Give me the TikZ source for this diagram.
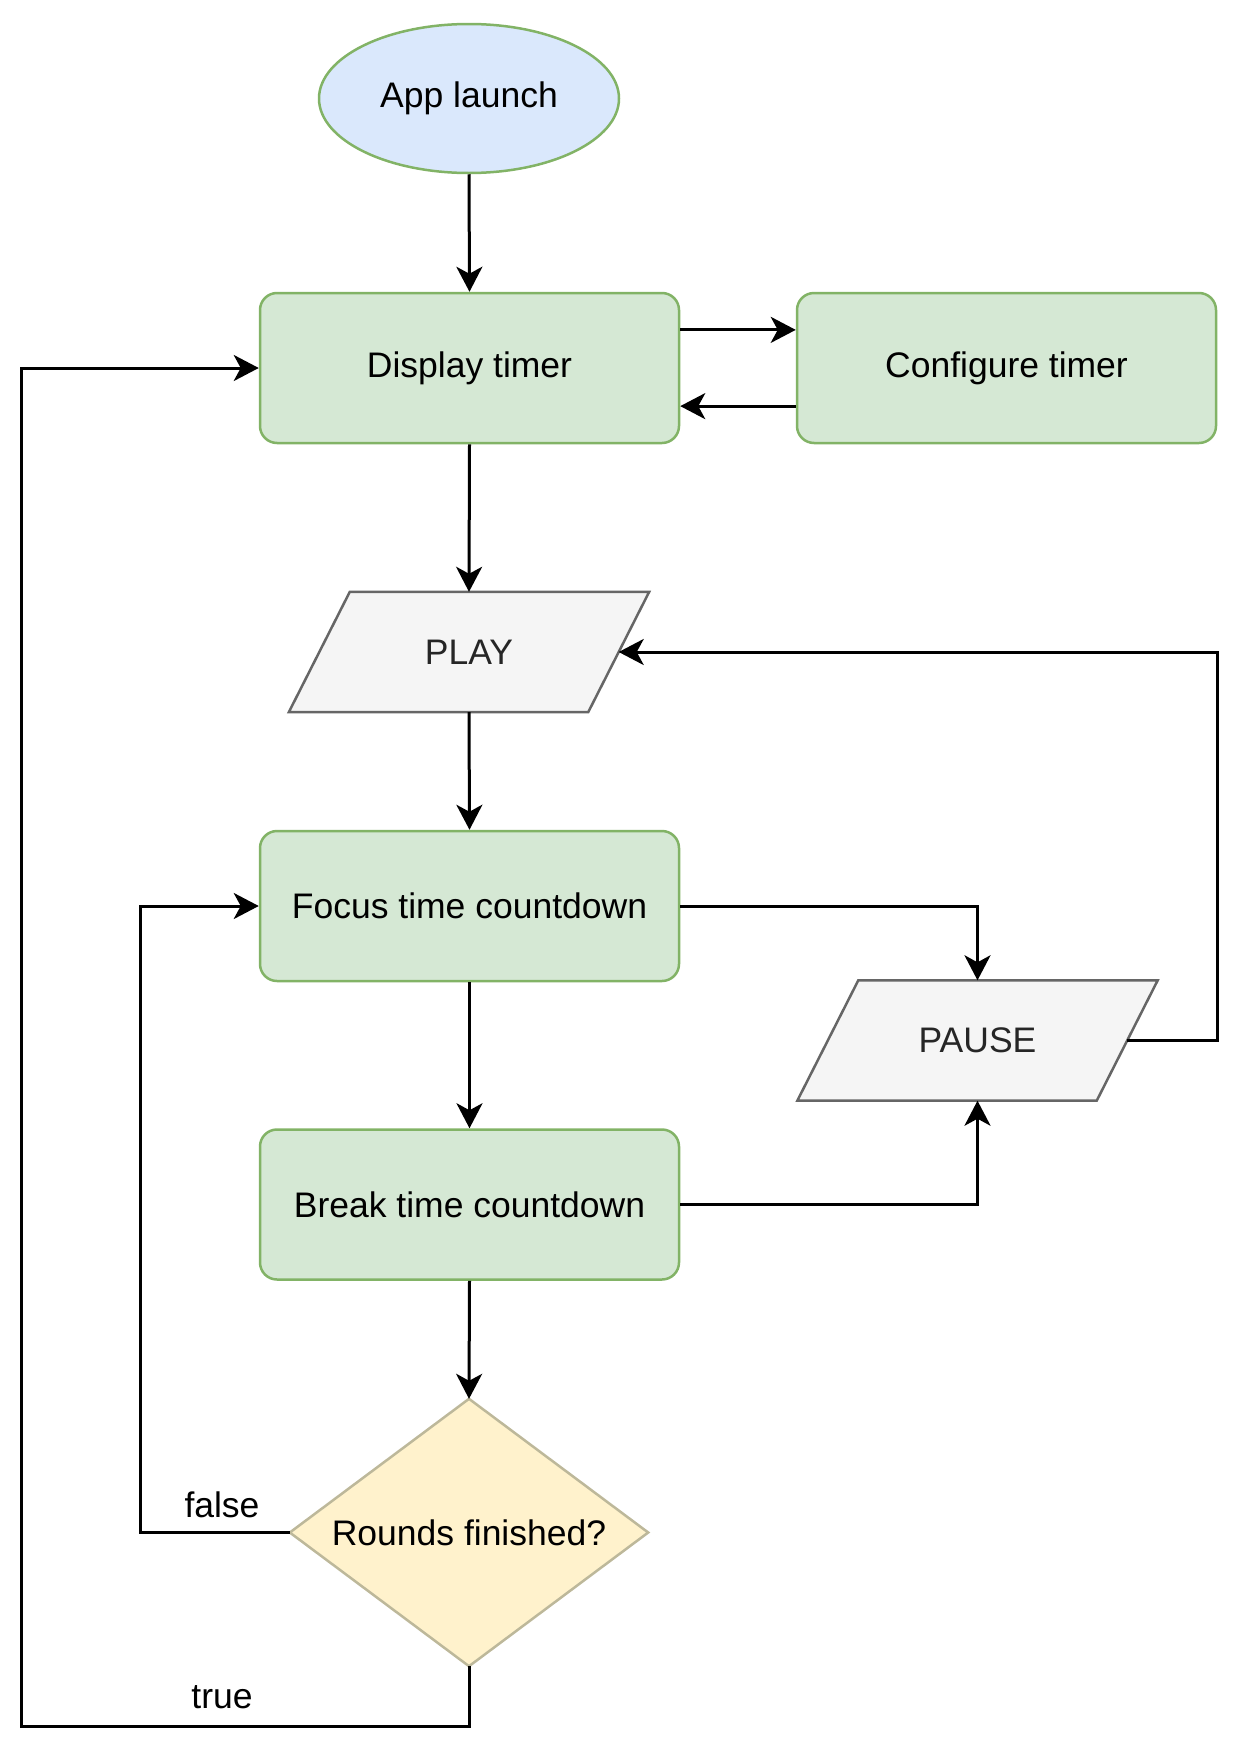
\documentclass[tikz,border=0pt]{standalone}
\usepackage{fontspec}
\setmainfont{Liberation Sans}
\usetikzlibrary{shapes.geometric,arrows.meta,calc,backgrounds}
\definecolor{gfill}{HTML}{D5E8D4}
\definecolor{gline}{HTML}{82B366}
\definecolor{bfill}{HTML}{DAE8FC}
\definecolor{pfill}{HTML}{F5F5F5}
\definecolor{pline}{HTML}{666666}
\definecolor{yfill}{HTML}{FFF2CC}
\definecolor{yline}{HTML}{BDB89A}
\begin{document}
\begin{tikzpicture}[x=1pt,y=-1pt,
  every node/.style={font=\fontsize{35.5}{42}\selectfont, inner sep=0pt},
  greenbox/.style={rectangle, rounded corners=17pt, draw=gline, fill=gfill, line width=2.5pt, minimum width=419pt, minimum height=150pt},
  startnode/.style={ellipse, draw=gline, fill=bfill, line width=2.5pt, minimum width=300pt, minimum height=149pt},
  parabody/.style={rectangle, minimum width=299pt, minimum height=120pt, text=black!85},
  parashape/.style={draw=pline, fill=pfill, line width=2.5pt},
  decbody/.style={rectangle, minimum width=358pt, minimum height=267pt},
  decshape/.style={draw=yline, fill=yfill, line width=2.5pt},
  conn/.style={line width=3pt, -{Stealth[length=25pt,width=26pt,inset=7pt]}}
]
\useasboundingbox (0,0) rectangle (1242,1756);

\node[startnode] (app) at (469,98.5) {App launch};
\node[greenbox] (disp) at (469.5,368) {Display timer};
\node[greenbox] (conf) at (1006.5,368) {Configure timer};
\node[parabody] (play) at (469,652) {PLAY};
\node[greenbox] (focus) at (469.5,906) {Focus time countdown};
\node[parabody] (pause) at (977.5,1040.5) {PAUSE};
\node[greenbox] (brk) at (469.5,1204.5) {Break time countdown};
\node[decbody] (dec) at (469,1532.5) {Rounds finished?};

\begin{scope}[on background layer]
  \draw[parashape] ([xshift=-30.5pt]play.south west) -- ([xshift=-30.5pt]play.south east)
    -- ([xshift=30.5pt]play.north east) -- ([xshift=30.5pt]play.north west) -- cycle;
  \draw[parashape] ([xshift=-30.5pt]pause.south west) -- ([xshift=-30.5pt]pause.south east)
    -- ([xshift=30.5pt]pause.north east) -- ([xshift=30.5pt]pause.north west) -- cycle;
  \draw[decshape] (dec.north) -- (dec.east) -- (dec.south) -- (dec.west) -- cycle;
\end{scope}

\node (lfalse) at (222,1505) {false};
\node (ltrue) at (222,1697) {true};

\coordinate (rx) at (1217,0);
\coordinate (fx) at (140,0);
\coordinate (bl) at (21,1726);

\draw[conn] (app.south) -- (disp.north);
\draw[conn] ($(disp.north east)!0.25!(disp.south east)$) -- ($(conf.north west)!0.25!(conf.south west)$);
\draw[conn] ($(conf.north west)!0.75!(conf.south west)$) -- ($(disp.north east)!0.75!(disp.south east)$);
\draw[conn] (disp.south) -- (play.north);
\draw[conn] (play.south) -- (focus.north);
\draw[conn] (focus.south) -- (brk.north);
\draw[conn] (brk.south) -- (dec.north);
\draw[conn] (focus.east) -| (pause.north);
\draw[conn] (brk.east) -| (pause.south);
\draw[conn] (pause.east) -- (pause.east -| rx) -- (play.east -| rx) -- (play.east);
\draw[conn] (dec.west) -- (dec.west -| fx) |- (focus.west);
\draw[conn] (dec.south) |- (bl) |- (disp.west);
\end{tikzpicture}
\end{document}
